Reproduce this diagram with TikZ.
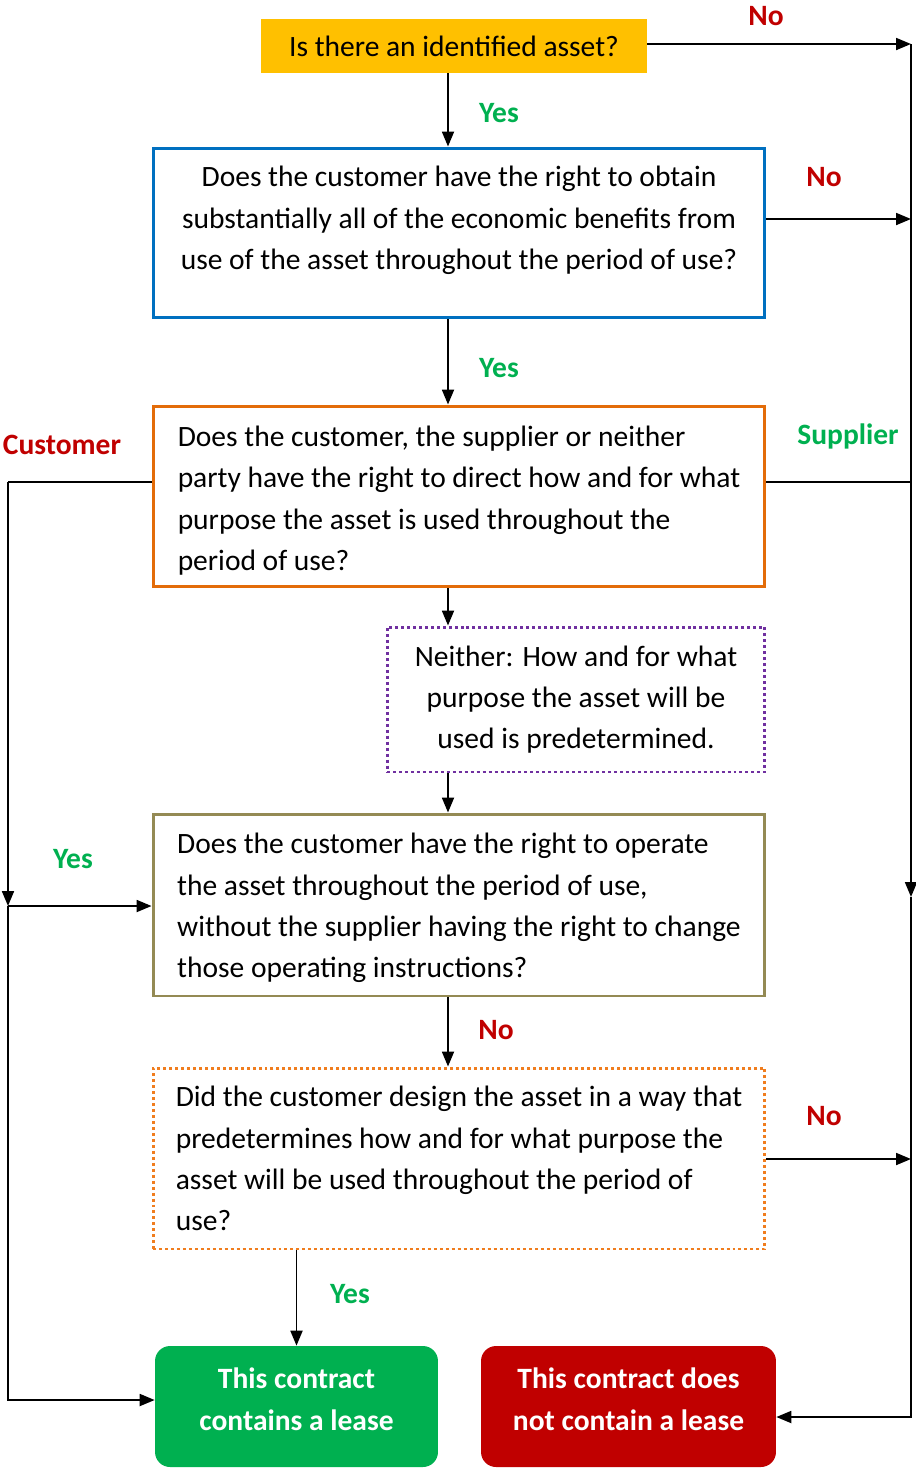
\documentclass[tikz,border=0pt]{standalone}
\usepackage{fontspec}
\setmainfont{Carlito}
\usepackage{tikz}
\usetikzlibrary{arrows.meta}
\definecolor{qyellow}{HTML}{FFC000}
\definecolor{qblue}{HTML}{0070C0}
\definecolor{qorange}{HTML}{E36C09}
\definecolor{qlorange}{HTML}{F07D1E}
\definecolor{qpurple}{HTML}{7030A0}
\definecolor{qolive}{HTML}{948A54}
\definecolor{qgreen}{HTML}{00B050}
\definecolor{qred}{HTML}{C00000}

\begin{document}
\begin{tikzpicture}[x=0.02cm,y=-0.02cm,font=\fontsize{16.8pt}{23.5pt}\selectfont]
\tikzstyle{box}=[rectangle,line width=1.7pt,minimum width=12.24cm,inner sep=0pt]
\tikzstyle{txt}=[inner sep=0pt]
\tikzstyle{endbox}=[rectangle,rounded corners=0.3cm,minimum height=2.42cm,inner sep=0pt]
\tikzstyle{endtxt}=[inner sep=0pt,align=center,text=white,font=\fontsize{16.8pt}{23.8pt}\selectfont\bfseries]
\tikzstyle{yes}=[text=qgreen,font=\fontsize{16.8pt}{20pt}\selectfont\bfseries]
\tikzstyle{no}=[text=qred,font=\fontsize{16.8pt}{20pt}\selectfont\bfseries]
\tikzstyle{arr}=[line width=1.1pt,-{Triangle[length=8.5pt,width=6.8pt]}]
\tikzstyle{line}=[line width=1.1pt]
\useasboundingbox (0,0) rectangle (916,1468);
\node[rectangle,fill=qyellow,minimum width=7.72cm,minimum height=1.08cm,inner sep=0pt] (q1) at (454,46) {Is there an identified asset?};
\node[box,draw=qblue,minimum height=3.4cm] (q2) at (459,233) {};
\node[txt,align=center] (q2t) at (459,220.5) {Does the customer have the right to obtain\\substantially all of the economic benefits from\\use of the asset throughout the period of use?};
\node[box,draw=qorange,minimum height=3.62cm] (q3) at (459,496.5) {};
\node[txt,align=left] (q3t) at (459,500.5) {Does the customer, the supplier or neither\\party have the right to direct how and for what\\purpose the asset is used throughout the\\period of use?};
\node[rectangle,draw=qpurple,line width=1.7pt,dash pattern=on 1.7pt off 1.7pt,minimum width=7.56cm,minimum height=2.9cm,inner sep=0pt,align=center] (q4) at (576,699.5) {Neither: How and for what\\purpose the asset will be\\used is predetermined.};
\node[box,draw=qolive,minimum height=3.64cm] (q5) at (459,905) {};
\node[txt,align=left] (q5t) at (459,908) {Does the customer have the right to operate\\the asset throughout the period of use,\\without the supplier having the right to change\\those operating instructions?};
\node[box,draw=qlorange,dash pattern=on 1.7pt off 1.7pt,minimum height=3.62cm,align=left] (q6) at (459,1158.5) {Did the customer design the asset in a way that\\predetermines how and for what purpose the\\asset will be used throughout the period of\\use?};
\node[endbox,fill=qgreen,minimum width=5.66cm] (lease) at (296.5,1406.5) {};
\node[endtxt] (leaset) at (296.5,1399) {This contract\\contains a lease};
\node[endbox,fill=qred,minimum width=5.9cm] (nolease) at (628.5,1406.5) {};
\node[endtxt] (noleaset) at (628.5,1399) {This contract does\\not contain a lease};
\coordinate (ax) at (448,0);
\coordinate (r1) at (911,44);
\coordinate (r2) at (911,219);
\coordinate (r3) at (911,482);
\coordinate (r4) at (911,897);
\coordinate (r5) at (911,1159);
\coordinate (r6) at (911,1417);
\coordinate (l1) at (8,482);
\coordinate (l2) at (8,906);
\coordinate (l3) at (8,1400);
\draw[arr] (q1.south -| ax) -- (q2.north -| ax);
\draw[arr] (q2.south -| ax) -- (q3.north -| ax);
\draw[arr] (q3.south -| ax) -- (q4.north -| ax);
\draw[arr] (q4.south -| ax) -- (q5.north -| ax);
\draw[arr] (q5.south -| ax) -- (q6.north -| ax);
\draw[arr] (q6.south -| lease.north) -- (lease.north);
\draw[arr] (q1.east |- r1) -- (r1);
\draw[arr] (q2.east |- r2) -- (r2);
\draw[line] (q3.east |- r3) -- (r3);
\draw[arr] (q6.east |- r5) -- (r5);
\draw[arr] (r1) -- (r4);
\draw[arr] (r4) -- (r6) -- (nolease.east |- r6);
\draw[line] (q3.west |- l1) -- (l1);
\draw[arr] (l1) -- (l2);
\draw[arr] (l2) -- (q5.west |- l2);
\draw[arr] (l2) -- (l3) -- (lease.west |- l3);
\node[no] (no1) at (766,16) {No};
\node[yes] (yes1) at (499,113) {Yes};
\node[no] (no2) at (824,177) {No};
\node[yes] (yes2) at (499,368) {Yes};
\node[no] (cust) at (62,445) {Customer};
\node[yes] (supp) at (848,436) {Supplier};
\node[yes] (yes3) at (73,859) {Yes};
\node[no] (no3) at (496,1030) {No};
\node[no] (no4) at (824,1116) {No};
\node[yes] (yes4) at (350,1294) {Yes};
\end{tikzpicture}
\end{document}
